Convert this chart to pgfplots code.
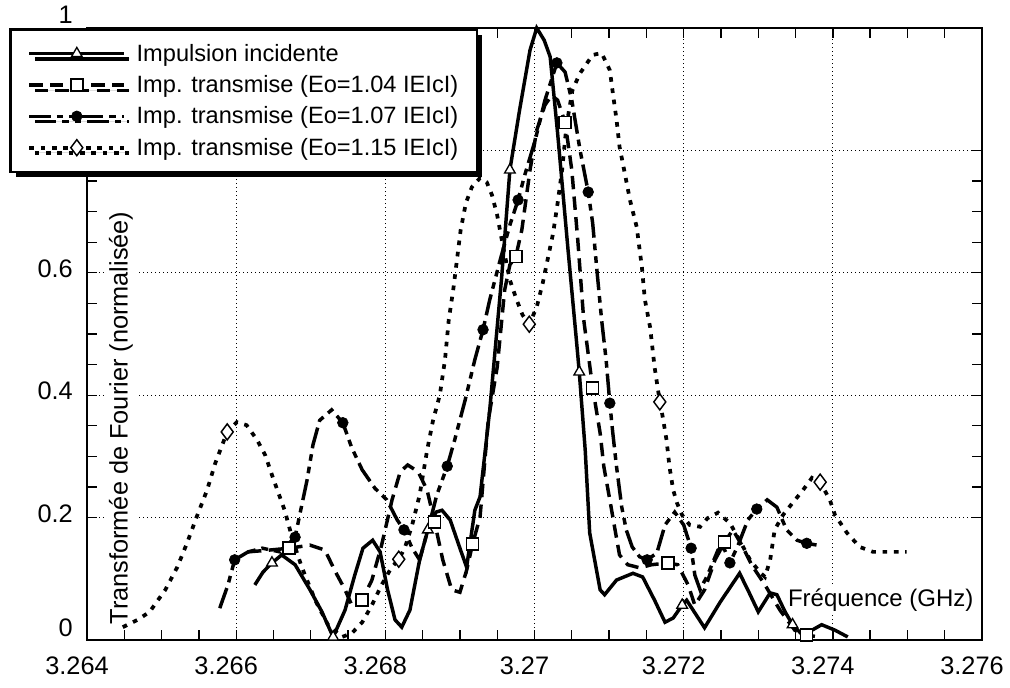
\documentclass[border=0pt]{standalone}
\usepackage{fontspec}
\setmainfont{Liberation Sans}
\usepackage{pgfplots}
\pgfplotsset{compat=1.18}
\usetikzlibrary{shadows}
\newcommand\tickfont{\fontsize{19}{22}\selectfont}
\tikzset{
 sA/.style={black, line width=2.6pt, solid},
 sB/.style={black, line width=2.6pt, dash pattern=on 10pt off 5.5pt},
 sC/.style={black, line width=2.6pt, dash pattern=on 16pt off 4.5pt on 5pt off 4.5pt on 5pt off 4.5pt},
 sD/.style={black, line width=2.8pt, dash pattern=on 3.5pt off 5pt},
 mA/.style={mark=triangle*, mark size=4.6pt, mark options={solid, fill=white, draw=black, line width=1pt}},
 mB/.style={mark=square*, mark size=4.5pt, mark options={solid, fill=white, draw=black, line width=1.1pt}},
 mC/.style={mark=*, mark size=4pt, mark options={solid, fill=black, draw=black, line width=0.5pt}},
 mD/.style={mark=diamond*, mark size=6pt, mark options={solid, fill=white, draw=black, line width=1.1pt}},
}
\begin{document}
\begin{tikzpicture}
\useasboundingbox (0,0) rectangle (757.5pt,515.25pt);
\begin{axis}[
  at={(65.25pt,35.25pt)}, anchor=south west,
  scale only axis, width=671.25pt, height=459pt,
  xmin=3.264, xmax=3.276, ymin=0, ymax=1,
  xtick={3.264,3.266,3.268,3.27,3.272,3.274,3.276},
  xticklabels={3.264,3.266,3.268,3.27,3.272,3.274,3.276},
  ytick={0.2,0.4,0.6,0.8}, yticklabels={0.2,0.4,0.6,0.8},
  extra y ticks={0}, extra y tick labels={0},
  extra y tick style={grid=none, yticklabel style={yshift=6pt}},
  minor x tick num=3, minor y tick num=3,
  grid=major,
  major grid style={black, line width=0.7pt, dash pattern=on 0.8pt off 2.2pt},
  tick align=inside, tick pos=both,
  major tick length=7.5pt, minor tick length=7.5pt,
  tick style={black, line width=1pt},
  axis line style={black, line width=1.3pt},
  tick label style={font=\tickfont},
  xticklabel style={font=\tickfont, anchor=north, inner sep=0pt, yshift=-12.5pt, xshift=-7.5pt},
  yticklabel style={font=\tickfont, anchor=east, inner sep=0pt, xshift=-10.5pt, yshift=3pt},
  scaled x ticks=false, scaled y ticks=false,
  clip=false,
  legend cell align=left,
  legend image code/.code={\draw[mark repeat=2,mark phase=2,#1] plot coordinates {(0pt,0pt) (35.5pt,0pt) (71pt,0pt)};},
  legend style={at={(-0.0872,1)}, anchor=north west, draw=black, line width=2pt, fill=white,
    font=\fontsize{17.7}{21}\selectfont, inner xsep=13pt, inner ysep=10pt,
    row sep=7.2pt, column sep=7pt, nodes={inner sep=1pt},
    drop shadow={shadow xshift=4pt, shadow yshift=-4pt, fill=black, opacity=1}},
]
\node[rotate=90, fill=white, inner xsep=2pt, inner ysep=2pt, font=\fontsize{19}{21}\selectfont] at (axis description cs:0.0380,0.3627) {Transformée de Fourier (normalisée)};
\node[anchor=east, fill=white, inner sep=1pt, font=\fontsize{18}{20}\selectfont] at (axis description cs:0.9922,0.0654) {Fréquence (GHz)};
\node[anchor=east, inner sep=0pt, font=\tickfont, xshift=-10.5pt, yshift=10pt] at (axis description cs:0,1) {1};

% Impulsion incidente
\addplot[sA, forget plot] coordinates {
(3.26625,0.090) (3.26636,0.111) (3.26648,0.126) (3.26661,0.139) (3.26679,0.123) (3.26699,0.082)
(3.26715,0.046) (3.26730,0.005) (3.26746,0.049) (3.26759,0.106) (3.26770,0.150) (3.26783,0.163)
(3.26793,0.144) (3.26803,0.082) (3.26813,0.033) (3.26822,0.021) (3.26833,0.049) (3.26846,0.131)
(3.26857,0.180) (3.26868,0.209) (3.26876,0.212) (3.26887,0.196) (3.26900,0.150) (3.26909,0.119)
(3.26920,0.212) (3.26927,0.234) (3.26940,0.376) (3.26956,0.593) (3.26967,0.768) (3.26980,0.866)
(3.26994,0.964) (3.27003,1.000) (3.27013,0.980) (3.27021,0.953) (3.27031,0.828) (3.27045,0.637)
(3.27057,0.479) (3.27060,0.438) (3.27068,0.310) (3.27074,0.175) (3.27088,0.082) (3.27094,0.074)
(3.27110,0.098) (3.27132,0.109) (3.27145,0.103) (3.27161,0.065) (3.27175,0.029) (3.27186,0.036)
(3.27198,0.057) (3.27204,0.065) (3.27228,0.020) (3.27249,0.062) (3.27275,0.109) (3.27286,0.082)
(3.27300,0.046) (3.27316,0.077) (3.27325,0.074) (3.27336,0.046) (3.27346,0.025) (3.27362,0.005)
(3.27372,0.016) (3.27385,0.025) (3.27403,0.016) (3.27420,0.005)
};
% Eo = 1.04
\addplot[sB, forget plot] coordinates {
(3.26616,0.144) (3.26645,0.147) (3.26671,0.150) (3.26699,0.155) (3.26719,0.147) (3.26732,0.114)
(3.26746,0.082) (3.26755,0.057) (3.26769,0.065) (3.26782,0.098) (3.26795,0.155) (3.26809,0.229)
(3.26820,0.275) (3.26830,0.286) (3.26844,0.275) (3.26856,0.245) (3.26866,0.193) (3.26877,0.131)
(3.26889,0.082) (3.26900,0.078) (3.26909,0.114) (3.26917,0.157) (3.26927,0.201) (3.26938,0.359)
(3.26950,0.446) (3.26960,0.572) (3.26967,0.613) (3.26975,0.627) (3.26983,0.670) (3.26994,0.768)
(3.27003,0.833) (3.27014,0.874) (3.27023,0.890) (3.27031,0.882) (3.27041,0.846) (3.27050,0.768)
(3.27058,0.654) (3.27066,0.523) (3.27078,0.412) (3.27088,0.338) (3.27093,0.283) (3.27101,0.229)
(3.27108,0.180) (3.27114,0.139) (3.27125,0.123) (3.27141,0.118) (3.27157,0.123) (3.27179,0.126)
(3.27192,0.123) (3.27206,0.090) (3.27215,0.057) (3.27228,0.082) (3.27242,0.131) (3.27255,0.160)
(3.27266,0.180) (3.27278,0.155) (3.27291,0.123) (3.27309,0.090) (3.27329,0.049) (3.27349,0.016)
(3.27365,0.008) (3.27376,0.006)
};
% Eo = 1.07
\addplot[sC, forget plot] coordinates {
(3.26578,0.052) (3.26589,0.090) (3.26598,0.131) (3.26616,0.144) (3.26635,0.150) (3.26659,0.144)
(3.26679,0.168) (3.26686,0.209) (3.26695,0.261) (3.26703,0.319) (3.26712,0.359) (3.26728,0.376)
(3.26743,0.355) (3.26755,0.314) (3.26769,0.278) (3.26786,0.248) (3.26802,0.229) (3.26816,0.196)
(3.26825,0.180) (3.26836,0.150) (3.26846,0.131) (3.26857,0.180) (3.26869,0.237) (3.26883,0.284)
(3.26893,0.327) (3.26907,0.392) (3.26920,0.458) (3.26931,0.507) (3.26940,0.556) (3.26954,0.621)
(3.26967,0.678) (3.26978,0.719) (3.26987,0.760) (3.27001,0.817) (3.27014,0.882) (3.27030,0.943)
(3.27041,0.928) (3.27050,0.882) (3.27061,0.801) (3.27072,0.732) (3.27078,0.681) (3.27084,0.600)
(3.27090,0.523) (3.27096,0.458) (3.27101,0.387) (3.27105,0.338) (3.27110,0.283) (3.27117,0.217)
(3.27123,0.180) (3.27131,0.152) (3.27141,0.136) (3.27151,0.131) (3.27164,0.142) (3.27175,0.188)
(3.27188,0.209) (3.27200,0.188) (3.27210,0.150) (3.27215,0.106) (3.27222,0.082) (3.27232,0.106)
(3.27246,0.147) (3.27254,0.150) (3.27262,0.126) (3.27273,0.155) (3.27286,0.196) (3.27298,0.214)
(3.27312,0.229) (3.27325,0.217) (3.27338,0.180) (3.27352,0.163) (3.27365,0.158) (3.27379,0.155)
};
% Eo = 1.15
\addplot[sD, forget plot] coordinates {
(3.26448,0.021) (3.26468,0.033) (3.26484,0.046) (3.26505,0.082) (3.26521,0.119) (3.26534,0.158)
(3.26547,0.201) (3.26561,0.245) (3.26572,0.289) (3.26588,0.340) (3.26601,0.356) (3.26614,0.351)
(3.26628,0.327) (3.26639,0.302) (3.26649,0.266) (3.26665,0.212) (3.26676,0.163) (3.26688,0.119)
(3.26706,0.065) (3.26723,0.025) (3.26742,0.005) (3.26755,0.011) (3.26769,0.029) (3.26782,0.057)
(3.26795,0.090) (3.26808,0.118) (3.26818,0.132) (3.26826,0.150) (3.26836,0.188) (3.26846,0.237)
(3.26856,0.310) (3.26864,0.359) (3.26873,0.400) (3.26880,0.458) (3.26885,0.523) (3.26891,0.572)
(3.26896,0.621) (3.26901,0.670) (3.26908,0.714) (3.26916,0.740) (3.26927,0.755) (3.26936,0.748)
(3.26943,0.727) (3.26950,0.694) (3.26958,0.642) (3.26967,0.588) (3.26976,0.556) (3.26984,0.531)
(3.26993,0.516) (3.27003,0.544) (3.27011,0.583) (3.27018,0.624) (3.27025,0.665) (3.27031,0.714)
(3.27037,0.768) (3.27043,0.842) (3.27051,0.899) (3.27061,0.926) (3.27078,0.956) (3.27090,0.959)
(3.27101,0.931) (3.27105,0.894) (3.27110,0.850) (3.27114,0.806) (3.27121,0.763) (3.27128,0.719)
(3.27137,0.675) (3.27144,0.609) (3.27148,0.556) (3.27155,0.511) (3.27161,0.446) (3.27168,0.389)
(3.27172,0.364) (3.27177,0.327) (3.27181,0.283) (3.27186,0.245) (3.27191,0.224) (3.27198,0.204)
(3.27208,0.188) (3.27222,0.185) (3.27232,0.199) (3.27246,0.208) (3.27262,0.191) (3.27275,0.163)
(3.27289,0.131) (3.27302,0.111) (3.27309,0.103) (3.27316,0.131) (3.27322,0.180) (3.27333,0.204)
(3.27346,0.224) (3.27360,0.245) (3.27372,0.265) (3.27383,0.258) (3.27396,0.229) (3.27403,0.204)
(3.27419,0.175) (3.27436,0.152) (3.27454,0.144) (3.27499,0.144)
};
% markers
\addplot[only marks, mA, forget plot] coordinates {(3.26648,0.126) (3.26730,0.005) (3.26857,0.180) (3.26967,0.768) (3.27060,0.438) (3.27198,0.057) (3.27346,0.025)};
\addplot[only marks, mB, forget plot] coordinates {(3.26671,0.150) (3.26769,0.065) (3.26866,0.193) (3.26917,0.157) (3.26975,0.627) (3.27041,0.846) (3.27078,0.412) (3.27179,0.126) (3.27255,0.160) (3.27365,0.008)};
\addplot[only marks, mC, forget plot] coordinates {(3.26598,0.131) (3.26679,0.168) (3.26743,0.355) (3.26825,0.180) (3.26883,0.284) (3.26931,0.507) (3.26978,0.719) (3.27030,0.943) (3.27072,0.732) (3.27101,0.387) (3.27151,0.131) (3.27210,0.150) (3.27262,0.126) (3.27298,0.214) (3.27365,0.158)};
\addplot[only marks, mD, forget plot] coordinates {(3.26588,0.340) (3.26818,0.132) (3.26993,0.516) (3.27168,0.389) (3.27383,0.258)};

\addlegendimage{sA, mA}
\addlegendentry{Impulsion incidente}
\addlegendimage{sB, mB}
\addlegendentry{Imp. transmise (Eo=1.04 IEIcI)}
\addlegendimage{sC, mC}
\addlegendentry{Imp. transmise (Eo=1.07 IEIcI)}
\addlegendimage{sD, mD}
\addlegendentry{Imp. transmise (Eo=1.15 IEIcI)}
\end{axis}
\end{tikzpicture}
\end{document}
